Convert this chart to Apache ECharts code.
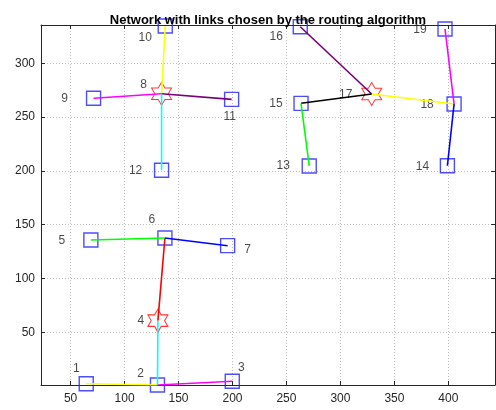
<!DOCTYPE html>
<html>
<head>
<meta charset="utf-8">
<script src="https://cdn.jsdelivr.net/npm/echarts@6/dist/echarts.min.js"></script>
<style>html,body{margin:0;padding:0;background:#fff}#c{width:496px;height:410px}</style>
</head>
<body>
<div id="c"></div>
<script>
// ---- data ----
const nodeIds = [1,2,3,4,5,6,7,8,9,10,11,12,13,14,15,16,17,18,19];
const nodeX = [64.5,130.5,199.8,130.9,68.8,137.4,195.5,134.3,71.3,137.7,199.2,134.3,271.1,399.1,263.5,262.8,329.0,405.3,396.9];
const nodeY = [2.2,1.0,4.5,60.8,135.8,137.6,130.5,271.7,267.5,334.7,266.5,200.6,204.6,204.8,262.8,334.0,271.5,262.2,331.9];
const starNodes = [4,8,17];
const edgesFrom = [1,2,2,4,5,6,8,8,8,8,16,15,15,17,18,18];
const edgesTo   = [2,3,4,6,6,7,10,9,11,12,17,17,13,18,19,14];
const edgeColors = ['#ffff00','#ff00ff','#00ffff','#ff0000','#00ff00','#0000ff','#ffff00','#ff00ff','#7a007a','#00ffff','#7a007a','#000000','#00ff00','#ffff00','#ff00ff','#0000ff'];
const titleText = 'Network with links chosen by the routing algorithm';
const xRange = [22.6, 443.2];
const yRange = [1, 335.6];

// ---- styles ----
const labelOffsets = {
  1:[-10,-15],2:[-17,-11],3:[9,-14],4:[-17,0],5:[-29,1],6:[-13,-18],7:[20,4],
  8:[-18,-9],9:[-29,0],10:[-20,12],11:[-2,17],12:[-26,0],13:[-26,0],14:[-25,1],
  15:[-25,0],16:[-24,10],17:[-26,1],18:[-27,1],19:[-25,1]
};
const hexagram = 'path://M50 0 L64.43 25 L93.3 25 L78.87 50 L93.3 75 L64.43 75 L50 100 L35.57 75 L6.7 75 L21.13 50 L6.7 25 L35.57 25 Z';
const FONT = '"Liberation Sans", Arial, Helvetica, sans-serif';
const AX = '#262626';

const series = [];
const squareData = [], starData = [];
nodeIds.forEach((id, i) => {
  const item = {
    value: [nodeX[i], nodeY[i]],
    label: { show: true, formatter: String(id), position: 'inside', offset: labelOffsets[id],
             color: '#1a1a1a', fontSize: 12, fontFamily: FONT }
  };
  (starNodes.includes(id) ? starData : squareData).push(item);
});
series.push({
  type: 'scatter', data: squareData, symbol: 'rect', symbolSize: 14, z: 2,
  itemStyle: { color: 'rgba(0,0,0,0)', borderColor: '#2020ff', borderWidth: 1.4 },
  emphasis: { disabled: true }, silent: true
});
series.push({
  type: 'scatter', data: starData, symbol: hexagram, symbolSize: [20, 23], symbolKeepAspect: false, z: 2,
  itemStyle: { color: 'rgba(0,0,0,0)', borderColor: '#ff0000', borderWidth: 1 },
  emphasis: { disabled: true }, silent: true
});
edgesFrom.forEach((a, k) => {
  const b = edgesTo[k];
  const ia = nodeIds.indexOf(a), ib = nodeIds.indexOf(b);
  series.push({
    type: 'line', z: 3, showSymbol: false, silent: true, animation: false,
    data: [[nodeX[ia], nodeY[ia]], [nodeX[ib], nodeY[ib]]],
    lineStyle: { color: edgeColors[k], width: 1.6 }
  });
});

const gridLine = { show: true, lineStyle: { color: '#bdbdbd', type: [1, 2], width: 1 } };
const chart = echarts.init(document.getElementById('c'), null, { renderer: 'canvas' });
chart.setOption({
  animation: false,
  backgroundColor: '#fff',
  title: { text: titleText, left: 263, textAlign: 'center', top: 9,
           textStyle: { fontFamily: FONT, fontSize: 13, fontWeight: 'bold', color: '#000' } },
  grid: { left: 41, right: 1, top: 25, bottom: 25, containLabel: false },
  xAxis: [
    { type: 'value', min: xRange[0], max: xRange[1], splitNumber: 8,
      axisLine: { show: true, onZero: false, lineStyle: { color: AX, width: 1 } },
      axisTick: { show: true, inside: true, length: 4, lineStyle: { color: AX } },
      axisLabel: { showMinLabel: false, showMaxLabel: false, margin: 8, color: AX, fontSize: 12, fontFamily: FONT },
      splitLine: gridLine },
    { type: 'value', position: 'top', min: xRange[0], max: xRange[1], splitNumber: 8,
      axisLine: { show: true, onZero: false, lineStyle: { color: AX, width: 1 } },
      axisTick: { show: true, inside: true, length: 4, lineStyle: { color: AX } },
      axisLabel: { show: false }, splitLine: { show: false } }
  ],
  yAxis: [
    { type: 'value', min: yRange[0], max: yRange[1], splitNumber: 7,
      axisLine: { show: true, onZero: false, lineStyle: { color: AX, width: 1 } },
      axisTick: { show: true, inside: true, length: 4, lineStyle: { color: AX } },
      axisLabel: { showMinLabel: false, showMaxLabel: false, margin: 6, color: AX, fontSize: 12, fontFamily: FONT },
      splitLine: gridLine },
    { type: 'value', position: 'right', min: yRange[0], max: yRange[1], splitNumber: 7,
      axisLine: { show: true, onZero: false, lineStyle: { color: AX, width: 1 } },
      axisTick: { show: true, inside: true, length: 4, lineStyle: { color: AX } },
      axisLabel: { show: false }, splitLine: { show: false } }
  ],
  series: series
});
</script>
</body>
</html>
